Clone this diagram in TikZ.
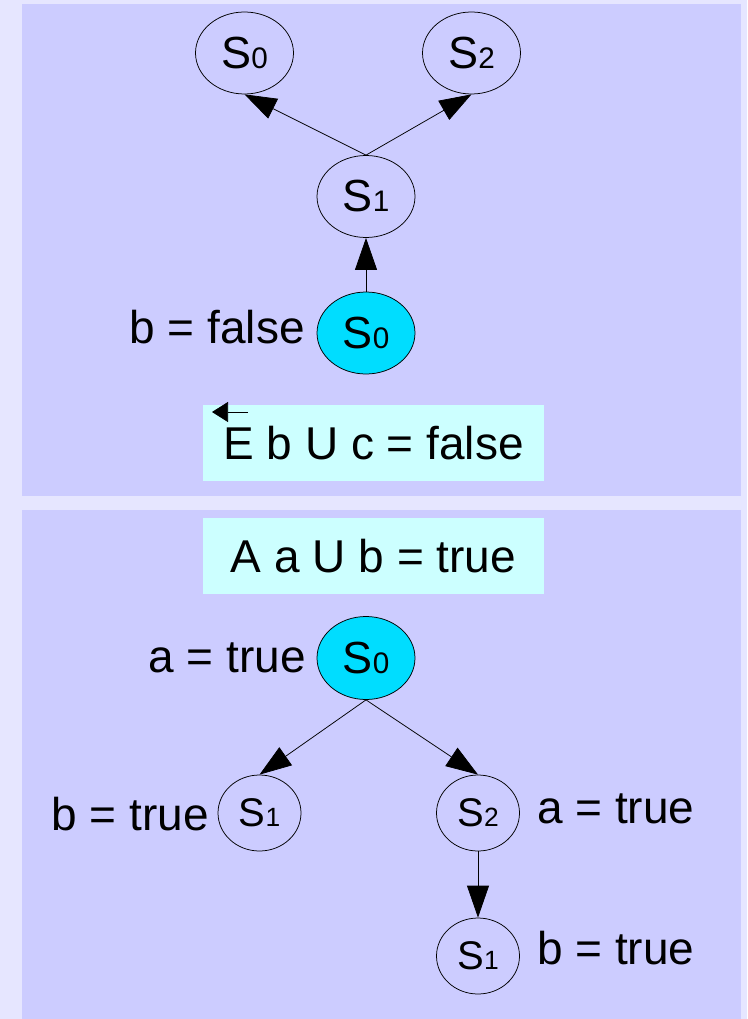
\documentclass[tikz,border=0pt]{standalone}
\usepackage{fontspec}
\setmainfont{Liberation Sans}
\usetikzlibrary{shapes.geometric,arrows.meta}
\definecolor{outerbg}{HTML}{E6E6FF}
\definecolor{panelc}{HTML}{CCCCFF}
\definecolor{boxc}{HTML}{CCFFFF}
\definecolor{cyanst}{HTML}{00DDFF}
\newcommand\Sub[1]{S\scalebox{0.66}{#1}}
\begin{document}
\begin{tikzpicture}[x=1pt,y=-1pt,
  st/.style={ellipse,draw,line width=0.75pt,inner sep=0pt,font=\fontsize{45}{50}\selectfont},
  big/.style={minimum width=98pt,minimum height=82pt},
  small/.style={minimum width=83pt,minimum height=76pt,font=\fontsize{40}{44}\selectfont},
  ini/.style={fill=cyanst},
  lbl/.style={inner sep=0pt,font=\fontsize{46}{50}\selectfont},
  box/.style={fill=boxc,minimum width=341pt,minimum height=76pt,inner sep=0pt,font=\fontsize{46}{50}\selectfont},
  arr/.style={line width=0.75pt,-{Triangle[length=32pt,width=22pt]}},
]
\fill[outerbg] (0,0) rectangle (747,1019);
\fill[panelc] (22,4) rectangle (741,496);
\fill[panelc] (22,510) rectangle (741,1019);
% top panel
\node[st,big] (tS0) at (244.5,53) {\Sub{0}};
\node[st,big] (tS2) at (471.5,53) {\Sub{2}};
\node[st,big] (tS1) at (366,196.5) {\Sub{1}};
\node[st,big,ini] (tI) at (366,333) {\Sub{0}};
\node[lbl,anchor=base east] (lbf) at (305,343) {b = false};
\node[box] (bx1) at (373.5,443) {E b U c = false};
\coordinate (aS) at (248,412);
\coordinate (aE) at (212,412);
\draw[line width=0.75pt,-{Triangle[length=16pt,width=20pt]}] (aS) -- (aE);
\draw[arr] (tS1.north) -- (tS0.south);
\draw[arr] (tS1.north) -- (tS2.south);
\draw[arr] (tI.north) -- (tS1.south);
% bottom panel
\node[box] (bx2) at (373.5,556) {A a U b = true};
\node[st,big,ini,minimum height=83pt] (bI) at (366,658) {\Sub{0}};
\node[lbl,anchor=base east] (lat) at (306,672) {a = true};
\node[st,small] (bS1) at (259.5,813) {\Sub{1}};
\node[st,small] (bS2) at (478,813) {\Sub{2}};
\node[st,small] (bS1b) at (478,956) {\Sub{1}};
\node[lbl,anchor=base east] (lbt1) at (209,830) {b = true};
\node[lbl,anchor=base west] (lat2) at (537,823) {a = true};
\node[lbl,anchor=base west] (lbt2) at (537,964) {b = true};
\draw[arr] (bI.south) -- (bS1.north);
\draw[arr] (bI.south) -- (bS2.north);
\draw[arr] (bS2.south) -- (bS1b.north);
\end{tikzpicture}
\end{document}
